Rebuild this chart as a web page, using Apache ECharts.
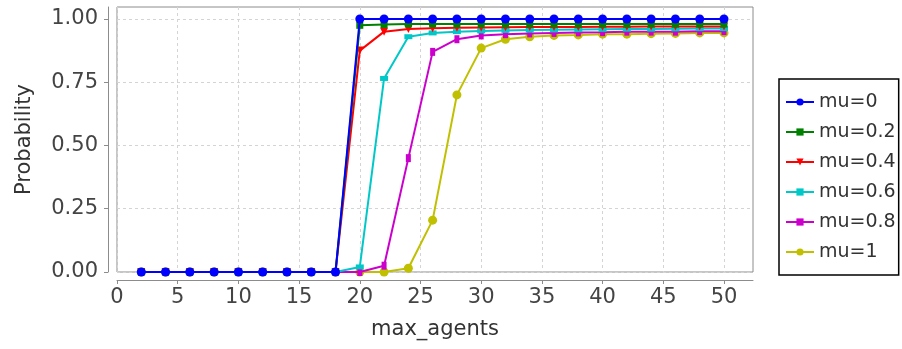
<!DOCTYPE html>
<html>
<head>
<meta charset="utf-8">
<script src="https://cdn.jsdelivr.net/npm/echarts@6/dist/echarts.min.js"></script>
<style>
html,body{margin:0;padding:0;background:#fff;}
#c{width:902px;height:349px;}
</style>
</head>
<body>
<div id="c"></div>
<script>
const maxAgents = [2,4,6,8,10,12,14,16,18,20,22,24,26,28,30,32,34,36,38,40,42,44,46,48,50];
const seriesNames = ['mu=0','mu=0.2','mu=0.4','mu=0.6','mu=0.8','mu=1'];
const mu0  = [0,0,0,0,0,0,0,0,0, 1,1,1,1,1,1,1,1,1,1,1,1,1,1,1,1];
const mu02 = [0,0,0,0,0,0,0,0,0, 0.975,0.978,0.98,0.98,0.98,0.98,0.98,0.98,0.98,0.98,0.98,0.98,0.98,0.98,0.98,0.98];
const mu04 = [0,0,0,0,0,0,0,0,0, 0.875,0.95,0.96,0.963,0.965,0.966,0.967,0.968,0.968,0.968,0.969,0.969,0.97,0.97,0.97,0.97];
const mu06 = [0,0,0,0,0,0,0,0,0, 0.02,0.765,0.93,0.945,0.95,0.953,0.955,0.956,0.957,0.958,0.959,0.96,0.96,0.961,0.962,0.962];
const mu08 = [0,0,0,0,0,0,0,0,0, 0,0.025,0.45,0.87,0.92,0.935,0.94,0.943,0.945,0.947,0.948,0.95,0.95,0.95,0.952,0.952];
const mu1  = [0,0,0,0,0,0,0,0,0, 0,0,0.015,0.205,0.70,0.885,0.92,0.93,0.935,0.937,0.94,0.94,0.942,0.943,0.945,0.945];
const xTicks = [0,5,10,15,20,25,30,35,40,45,50];
const yTicks = [0,0.25,0.5,0.75,1];

const values = [mu0, mu02, mu04, mu06, mu08, mu1];
const colors = ['#0000ff','#008000','#ff0000','#00c8c8','#cc00cc','#c0c000'];
const symbols = ['circle','rect','triangle','rect','rect','circle'];
const sizes = [9,7,8,[8,5],[5,8],9];
const rotates = [0,0,180,0,0,0];

const chart = echarts.init(document.getElementById('c'), null, {renderer:'canvas'});
const font = 'DejaVu Sans';
const series = values.map((v,i)=>({
  name: seriesNames[i],
  type: 'line',
  data: maxAgents.map((x,j)=>[x, v[j]]),
  symbol: symbols[i],
  symbolSize: sizes[i],
  symbolRotate: rotates[i],
  showAllSymbol: true,
  clip: false,
  z: 10 - i,
  itemStyle: {color: colors[i]},
  lineStyle: {color: colors[i], width: 2},
  emphasis: {disabled: true},
  animation: false
}));

chart.setOption({
  animation: false,
  grid: {left:117, right:149, top:7, bottom:77, show:true, borderColor:'#8c8c8c', borderWidth:1, backgroundColor:'#fff'},
  legend: {
    orient: 'vertical',
    left: 779, top: 79,
    data: seriesNames,
    itemWidth: 28, itemHeight: 9, itemGap: 10,
    padding: [13, 3, 13, 6],
    borderColor: '#000', borderWidth: 1.5,
    textStyle: {fontFamily: font, fontSize: 19, lineHeight: 20, color:'#333'},
    selectedMode: false
  },
  xAxis: {
    type: 'value', min: 0, max: 52.39,
    name: 'max_agents', nameLocation: 'middle', nameGap: 39,
    nameTextStyle: {fontFamily: font, fontSize: 21, color:'#333'},
    offset: 8,
    axisLine: {show:true, onZero:false, lineStyle:{color:'#8c8c8c', width:1}},
    axisTick: {show:true, length:4, customValues: xTicks, lineStyle:{color:'#8c8c8c'}},
    axisLabel: {customValues: xTicks, margin: 7, fontFamily: font, fontSize: 21, color:'#444', formatter: v=>String(v)},
    splitLine: {show:true, lineStyle:{color:'#d4d4d4', type:[3,3], width:1}}
  },
  yAxis: {
    type: 'value', min: 0, max: 1.0474,
    name: 'Probability', nameLocation: 'middle', nameGap: 73, nameRotate: 90,
    nameTextStyle: {fontFamily: font, fontSize: 21, color:'#333'},
    offset: 9,
    axisLine: {show:true, onZero:false, lineStyle:{color:'#8c8c8c', width:1}},
    axisTick: {show:true, length:4, customValues: yTicks, lineStyle:{color:'#8c8c8c'}},
    axisLabel: {customValues: yTicks, margin: 10, fontFamily: font, fontSize: 21, color:'#444', formatter: v=>v.toFixed(2)},
    splitLine: {show:true, lineStyle:{color:'#d4d4d4', type:[3,3], width:1}}
  },
  series: series
});
</script>
</body>
</html>
